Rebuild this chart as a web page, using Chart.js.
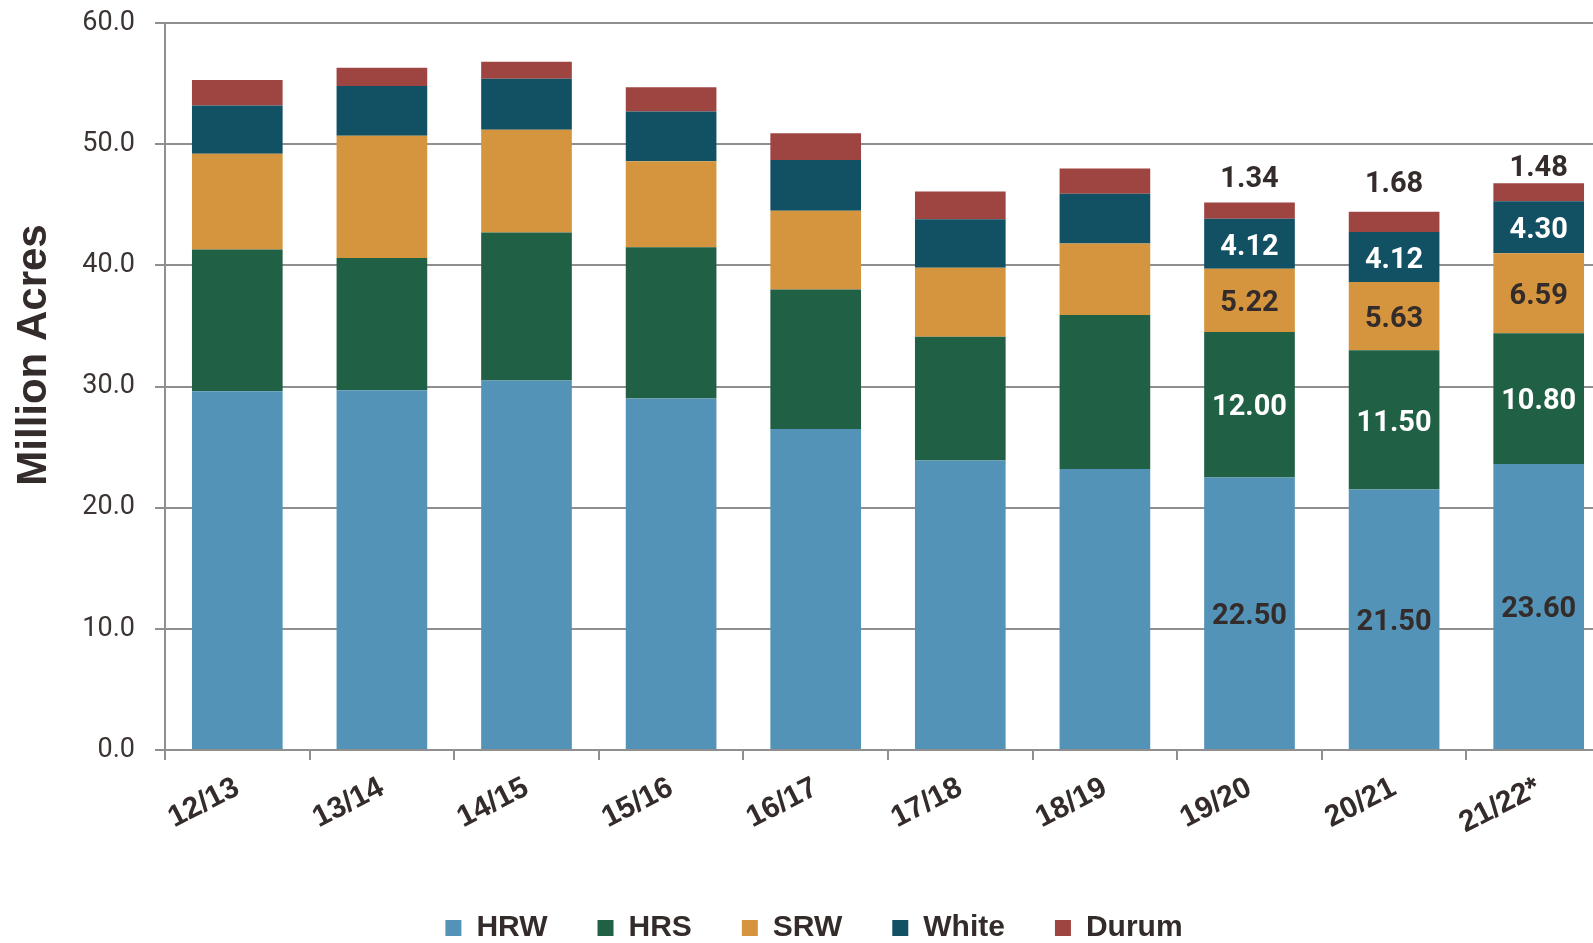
<!DOCTYPE html>
<html>
<head>
<meta charset="utf-8">
<script src="https://cdn.jsdelivr.net/npm/chart.js@4/dist/chart.umd.min.js"></script>
<style>
  html, body { margin: 0; padding: 0; background: #fff; }
  #clip { width: 1593px; height: 943px; overflow: hidden; }
  #box { width: 1611px; height: 943px; position: relative; }
</style>
</head>
<body>
<div id="clip"><div id="box"><canvas id="acres"></canvas></div></div>
<script>
// Wheat planted area by class, million acres
const seasons = ['12/13', '13/14', '14/15', '15/16', '16/17', '17/18', '18/19', '19/20', '20/21', '21/22*'];
const hrw   = [29.6, 29.7, 30.5, 29.0, 26.5, 23.9, 23.2, 22.50, 21.50, 23.60];
const hrs   = [11.7, 10.9, 12.2, 12.5, 11.5, 10.2, 12.7, 12.00, 11.50, 10.80];
const srw   = [7.9, 10.1, 8.5, 7.1, 6.5, 5.7, 5.9, 5.22, 5.63, 6.59];
const white = [4.0, 4.1, 4.2, 4.1, 4.2, 4.0, 4.1, 4.12, 4.12, 4.30];
const durum = [2.1, 1.5, 1.4, 2.0, 2.2, 2.3, 2.1, 1.34, 1.68, 1.48];
const labeledSeasons = ['19/20', '20/21', '21/22*'];

const dark = '#332c2a';
const gridGray = '#8f8f8f';

// value labels on the last three seasons
const segmentLabels = {
    id: 'segmentLabels',
    afterDatasetsDraw(chart, args, opts) {
        const ctx = chart.ctx;
        ctx.save();
        ctx.font = 'bold 29px Roboto';
        ctx.textAlign = 'center';
        ctx.textBaseline = 'middle';
        chart.data.datasets.forEach((ds, i) => {
            const meta = chart.getDatasetMeta(i);
            meta.data.forEach((bar, j) => {
                const k = labeledSeasons.indexOf(seasons[j]);
                if (k < 0) return;
                const txt = ds.data[j].toFixed(2);
                ctx.fillStyle = ds.labelColor;
                let y = ds.labelAbove ? bar.y - opts.aboveGap[k] : (bar.y + bar.base) / 2;
                ctx.fillText(txt, bar.x, y + 3.5);
            });
        });
        ctx.restore();
    }
};

// axis title, sits a bit above the middle in the original
const sideTitle = {
    id: 'sideTitle',
    afterDraw(chart) {
        const ctx = chart.ctx;
        ctx.save();
        ctx.translate(34.5, 355);
        ctx.rotate(-Math.PI / 2);
        ctx.font = 'bold 42px "Liberation Sans"';
        ctx.fillStyle = dark;
        ctx.textAlign = 'center';
        ctx.textBaseline = 'middle';
        ctx.fillText('Million Acres', 0, 0);
        ctx.restore();
    }
};

// nudge legend to where it sits in the original
const legendShift = {
    id: 'legendShift',
    afterLayout(chart) {
        const lg = chart.legend;
        lg.left += 6; lg.right += 6;
        lg.top += 10; lg.bottom += 10;
    }
};

const ctx = document.getElementById('acres').getContext('2d');
new Chart(ctx, {
    type: 'bar',
    data: {
        labels: seasons,
        datasets: [
            { label: 'HRW', data: hrw, backgroundColor: '#5393b8', labelColor: dark },
            { label: 'HRS', data: hrs, backgroundColor: '#206045', labelColor: '#ffffff' },
            { label: 'SRW', data: srw, backgroundColor: '#d5953f', labelColor: dark },
            { label: 'White', data: white, backgroundColor: '#125063', labelColor: '#ffffff' },
            { label: 'Durum', data: durum, backgroundColor: '#9e4542', labelColor: dark, labelAbove: true }
        ]
    },
    options: {
        responsive: true,
        maintainAspectRatio: false,
        animation: false,
        datasets: {
            bar: { barPercentage: 0.627, categoryPercentage: 1.0, borderWidth: 0 }
        },
        layout: { padding: { left: 5, top: 23, right: 0, bottom: 0 } },
        plugins: {
            legend: {
                position: 'bottom',
                labels: {
                    boxWidth: 16,
                    boxHeight: 16,
                    padding: 50,
                    color: dark,
                    font: { family: 'Liberation Sans', size: 30, weight: 'bold' }
                }
            },
            tooltip: { enabled: false },
            segmentLabels: { aboveGap: [26, 30, 18] }
        },
        scales: {
            x: {
                stacked: true,
                grid: {
                    drawOnChartArea: false,
                    drawTicks: true,
                    tickLength: 10,
                    color: gridGray,
                    lineWidth: 2
                },
                border: { color: gridGray, width: 2 },
                ticks: {
                    autoSkip: false,
                    minRotation: 27,
                    maxRotation: 27,
                    padding: 10,
                    color: dark,
                    font: { family: 'Liberation Sans', size: 30, weight: 'bold' }
                },
                afterFit(s) {
                    s.height = 103;
                    s.paddingLeft = 0;
                    s.paddingRight = 0;
                }
            },
            y: {
                stacked: true,
                min: 0,
                max: 60,
                ticks: {
                    stepSize: 10,
                    padding: 20,
                    color: '#3b3432',
                    font: { family: 'Roboto', size: 27 },
                    callback: v => v.toFixed(1)
                },
                grid: {
                    color: gridGray,
                    lineWidth: 2,
                    tickLength: 10
                },
                border: { color: gridGray, width: 2 },
                afterFit(s) {
                    s.width = 160;
                    s.paddingTop = 0;
                    s.paddingBottom = 0;
                }
            }
        }
    },
    plugins: [segmentLabels, sideTitle, legendShift]
});
</script>
</body>
</html>
